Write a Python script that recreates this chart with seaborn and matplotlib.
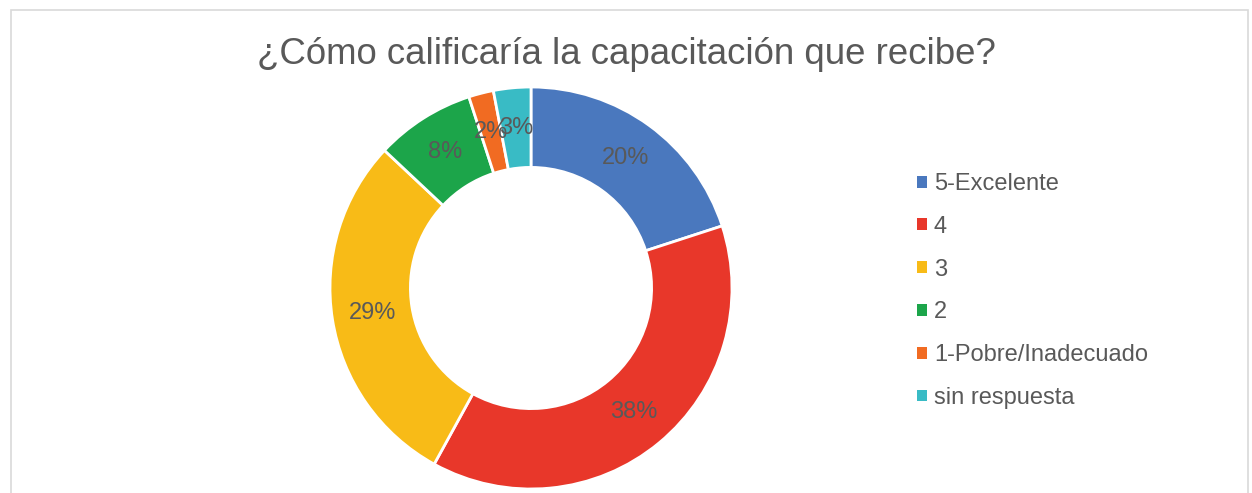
import matplotlib
matplotlib.use("Agg")
import matplotlib.pyplot as plt
import seaborn as sns
from matplotlib.patches import Patch, Rectangle

categories = ["5-Excelente", "4", "3", "2", "1-Pobre/Inadecuado", "sin respuesta"]
values = [20, 38, 29, 8, 2, 3]
colors = ["#4A78BE", "#E8372A", "#F8BB17", "#1CA54A", "#F16B22", "#39BBC5"]
title = "¿Cómo calificaría la capacitación que recibe?"

sns.set_theme(style="white")
plt.rcParams["font.family"] = ["Liberation Sans", "DejaVu Sans"]

W, H = 1252, 493
fig = plt.figure(figsize=(W / 100, H / 100), dpi=100)

# chart frame (bottom edge is cut off)
fig.patches.append(Rectangle((11 / W, 0 - 0.01), (1248 - 11) / W, (H - 10) / H + 0.01,
                             transform=fig.transFigure, fill=False,
                             edgecolor="#D9D9D9", linewidth=1.2))

cx, cy, r = 531, 288, 201
ax = fig.add_axes([(cx - r) / W, (H - cy - r) / H, 2 * r / W, 2 * r / H])
wedges, texts, autotexts = ax.pie(
    values, colors=colors, startangle=90, counterclock=False, radius=1,
    autopct=lambda p: f"{p:.0f}%", pctdistance=0.8,
    wedgeprops=dict(width=0.4, edgecolor="white", linewidth=2),
    textprops=dict(color="#595959", fontsize=17))
ax.set_xlim(-1, 1)
ax.set_ylim(-1, 1)
ax.set_aspect("equal")
ax.axis("off")

fig.text(626 / W, (H - 55) / H, title, ha="center", va="center",
         fontsize=26.4, color="#595959")

handles = [Patch(facecolor=c, edgecolor="none") for c in colors]
fig.legend(handles, categories, loc="center left",
           bbox_to_anchor=(896 / W, (H - 291) / H), frameon=False,
           fontsize=17, labelcolor="#595959", handlelength=0.4,
           handleheight=0.4, handletextpad=0.3, labelspacing=0.88)

fig.savefig("out.png", dpi=100, facecolor="white")
